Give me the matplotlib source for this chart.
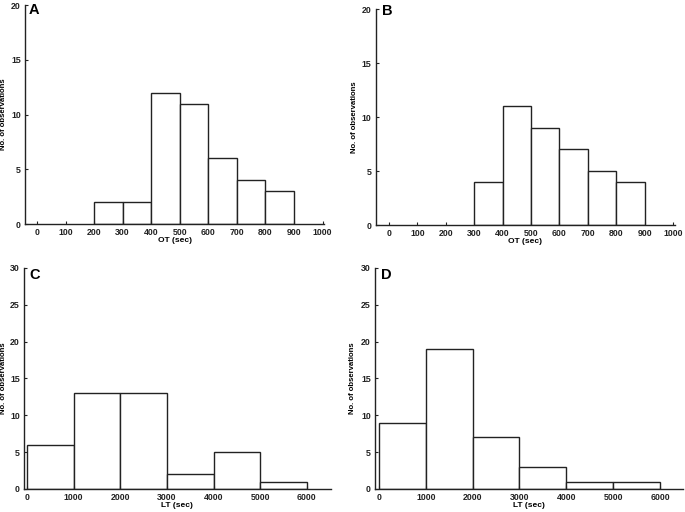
import matplotlib
matplotlib.use("Agg")
import matplotlib.pyplot as plt
import numpy as np

plt.rcParams['font.family'] = ['Liberation Sans', 'DejaVu Sans']

ot_edges = [0, 100, 200, 300, 400, 500, 600, 700, 800, 900, 1000]
ot_counts_A = [0, 0, 2, 2, 12, 11, 6, 4, 3, 0]
ot_counts_B = [0, 0, 0, 4, 11, 9, 7, 5, 4, 0]
lt_edges = [0, 1000, 2000, 3000, 4000, 5000, 6000]
lt_counts_C = [6, 13, 13, 2, 5, 1]
lt_counts_D = [9, 19, 7, 3, 1, 1]

ot_ticks = [0, 100, 200, 300, 400, 500, 600, 700, 800, 900, 1000]
lt_ticks = [0, 1000, 2000, 3000, 4000, 5000, 6000]

fig = plt.figure(figsize=(6.85, 5.12), dpi=100)

panels = [
    # letter, rect, edges, counts, xlim, ylim, yticks, xticks, xlabel, letter pos, ylabel x
    ("A", [0.0365, 0.5625, 0.4365, 0.4277], ot_edges, ot_counts_A, (-42, 1005), (0, 20), [0, 5, 10, 15, 20], ot_ticks, "OT (sec)", (0.013, 1.01), -0.060),
    ("B", [0.5485, 0.5605, 0.4370, 0.4219], ot_edges, ot_counts_B, (-47, 1007), (0, 20), [0, 5, 10, 15, 20], ot_ticks, "OT (sec)", (0.021, 1.025), -0.059),
    ("C", [0.0350, 0.0450, 0.4480, 0.4316], lt_edges, lt_counts_C, (-64, 6514), (0, 30), [0, 5, 10, 15, 20, 25, 30], lt_ticks, "LT (sec)", (0.016, 1.0), -0.055),
    ("D", [0.5474, 0.0450, 0.4496, 0.4316], lt_edges, lt_counts_D, (-85, 6490), (0, 30), [0, 5, 10, 15, 20, 25, 30], lt_ticks, "LT (sec)", (0.018, 1.0), -0.062),
]

for letter, rect, edges, counts, xlim, ylim, yticks, xticks, xlabel, lpos, ylx in panels:
    ax = fig.add_axes(rect)
    edges = np.array(edges, dtype=float)
    counts = np.array(counts, dtype=float)
    widths = np.diff(edges)
    mask = counts > 0
    ax.bar(edges[:-1][mask], counts[mask], width=widths[mask], align='edge',
           facecolor='white', edgecolor='#222222', linewidth=1.0)
    ax.set_xlim(*xlim)
    ax.set_ylim(*ylim)
    ax.set_xticks(xticks)
    ax.set_xticklabels([str(t) for t in xticks], fontsize=6.3, fontweight='bold')
    ax.set_yticks(yticks)
    ax.set_yticklabels([str(t) for t in yticks], fontsize=6.3, fontweight='bold')
    ax.tick_params(direction='in', length=2, width=0.8, pad=3, colors='#222222')
    for s in ['top', 'right']:
        ax.spines[s].set_visible(False)
    for s in ['left', 'bottom']:
        ax.spines[s].set_linewidth(1.0)
        ax.spines[s].set_color('#222222')
    ax.set_xlabel(xlabel, fontsize=6.0, fontweight='bold', labelpad=0)
    ax.set_ylabel("No. of observations", fontsize=5.6, fontweight='bold')
    ax.yaxis.set_label_coords(ylx, 0.5)
    ax.text(lpos[0], lpos[1], letter, transform=ax.transAxes, fontsize=10.5,
            fontweight='bold', va='top', ha='left')

fig.savefig("out.png", dpi=100)
